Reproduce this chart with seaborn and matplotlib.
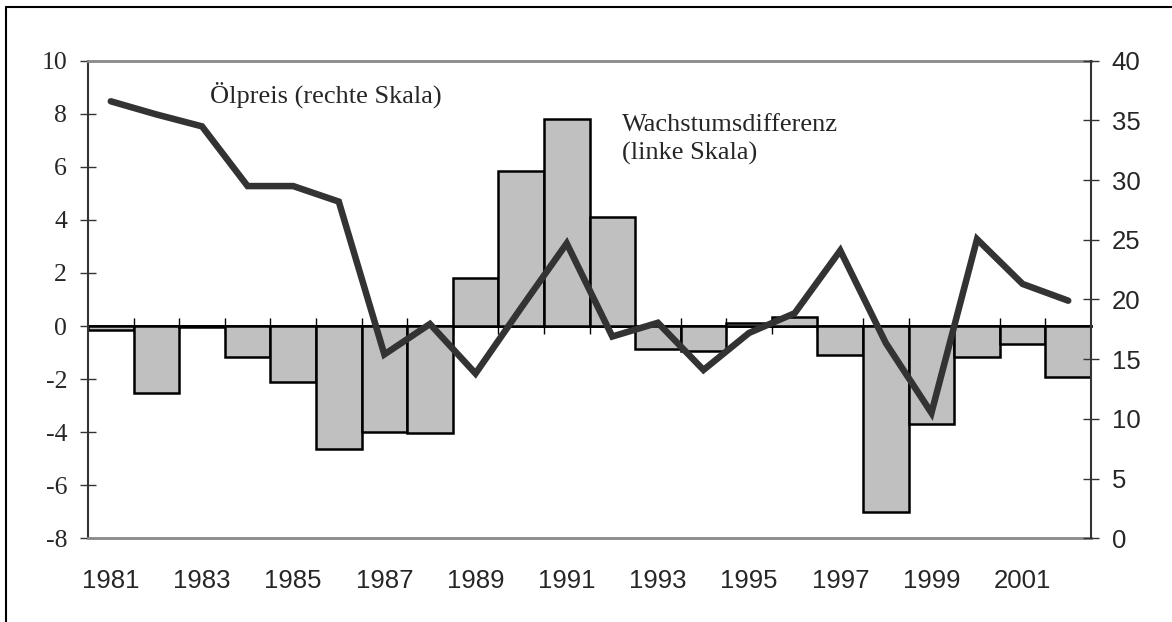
import numpy as np
import matplotlib
matplotlib.use("Agg")
import matplotlib.pyplot as plt
from matplotlib.lines import Line2D
import seaborn as sns

# Data
years = np.arange(1981, 2003)
wachstum = [-0.15, -2.54, -0.05, -1.15, -2.1, -4.65, -3.98, -4.03, 1.8, 5.84, 7.79, 4.1,
            -0.88, -0.93, 0.13, 0.33, -1.1, -7.0, -3.69, -1.18, -0.67, -1.93]
oelpreis = [36.6, 35.5, 34.5, 29.5, 29.5, 28.2, 15.4, 17.95, 13.8, 19.3, 24.7, 16.9,
            18.05, 14.1, 17.2, 18.85, 24.1, 16.35, 10.5, 25.05, 21.3, 19.9]
left_ticks = np.arange(-8, 11, 2)
right_ticks = np.arange(0, 41, 5)
year_ticks = years[::2]

sns.set_style("white")
plt.rcParams["axes.unicode_minus"] = False
serif = ["Liberation Serif", "DejaVu Serif"]
sans = ["Liberation Sans", "DejaVu Sans"]
fs = 18.5

fig = plt.figure(figsize=(11.72, 6.22), dpi=100)
ax = fig.add_axes([0.0751, 0.1346, 0.8558, 0.7678])

# zero line with category ticks at the bar boundaries (drawn under the bars)
sec = ax.secondary_xaxis(8 / 18)
sec.set_xticks(years[:-1] + 0.5)
sec.tick_params(direction="inout", length=12, width=1, color="black",
                labelbottom=False, labeltop=False)
for sp in sec.spines.values():
    sp.set_color("black")
    sp.set_linewidth(2)

sns.barplot(x=years, y=wachstum, native_scale=True, width=1, color="#c0c0c0",
            edgecolor="black", linewidth=1.8, saturation=1, errorbar=None, ax=ax)

ax.set_xlim(1980.5, 2002.5)
ax.set_ylim(-8, 10)
ax.set_yticks(left_ticks)
ax.set_yticklabels([str(v) for v in left_ticks], family=serif, fontsize=fs)
ax.set_xticks(year_ticks)
ax.set_xticklabels([str(y) for y in year_ticks], family=sans, fontsize=fs)
ax.tick_params(axis="y", direction="inout", length=12, width=1, color="#333333", pad=9)
ax.tick_params(axis="x", length=0, pad=22)
ax.set_xlabel("")
ax.set_ylabel("")
ax.spines["left"].set_color("#333333")
ax.spines["left"].set_linewidth(1.5)
for s in ["top", "bottom"]:
    ax.spines[s].set_color("#8a8a8a")
    ax.spines[s].set_linewidth(2)
ax.spines["right"].set_visible(False)

ax2 = ax.twinx()
sns.lineplot(x=years, y=oelpreis, color="#333333", linewidth=4.7, ax=ax2)
for l in ax2.get_lines():
    l.set_solid_joinstyle("miter")
    l.set_solid_capstyle("round")
ax2.set_xlim(1980.5, 2002.5)
ax2.set_ylim(0, 40)
ax2.set_yticks(right_ticks)
ax2.set_yticklabels([str(v) for v in right_ticks], family=sans, fontsize=fs)
ax2.tick_params(axis="y", direction="inout", length=12, width=1, color="#333333", pad=9)
ax2.set_xlabel("")
ax2.set_ylabel("")
ax2.spines["right"].set_color("#333333")
ax2.spines["right"].set_linewidth(1.5)
for s in ["top", "bottom", "left"]:
    ax2.spines[s].set_visible(False)

ax.text(1983.18, 8.7, "Ölpreis (rechte Skala)", family=serif, fontsize=19, va="center")
ax.text(1992.21, 7.03, "Wachstumsdifferenz\n(linke Skala)", family=serif, fontsize=19,
        va="center", linespacing=1.3)

# outer frame (top and left edges)
fig.add_artist(Line2D([6 / 1172, 1], [1 - 7 / 622, 1 - 7 / 622], color="black", lw=1.5))
fig.add_artist(Line2D([6 / 1172, 6 / 1172], [0, 1 - 7 / 622], color="black", lw=1.5))

fig.savefig("out.png", dpi=100)
